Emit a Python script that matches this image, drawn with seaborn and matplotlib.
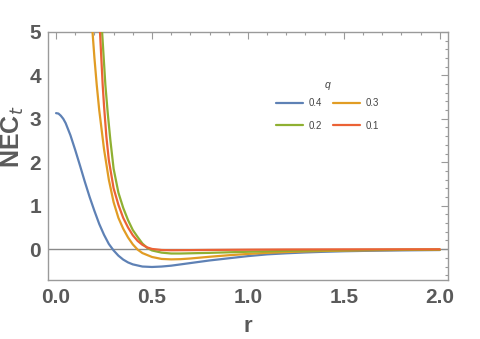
import numpy as np
import pandas as pd
import matplotlib
matplotlib.use('Agg')
import matplotlib.pyplot as plt
import seaborn as sns
from matplotlib.ticker import MultipleLocator

sns.set_style('white')
plt.rcParams['font.family'] = ['Liberation Sans', 'DejaVu Sans']

# values
r_q04 = [0, 0.0125, 0.025, 0.0375, 0.05, 0.075, 0.1, 0.125, 0.15, 0.175, 0.2, 0.225,
         0.25, 0.275, 0.3, 0.325, 0.35, 0.375, 0.4, 0.45, 0.5, 0.55, 0.6, 0.7, 0.8,
         0.9, 1.0, 1.1, 1.2, 1.3, 1.4, 1.5, 1.6, 1.8, 2.0]
nec_q04 = [3.13, 3.12, 3.07, 3.0, 2.9, 2.62, 2.28, 1.92, 1.55, 1.2, 0.88, 0.58,
           0.33, 0.12, -0.03, -0.15, -0.24, -0.305, -0.35, -0.40, -0.41, -0.40,
           -0.38, -0.32, -0.26, -0.21, -0.16, -0.12, -0.095, -0.075, -0.06, -0.048,
           -0.04, -0.028, -0.02]

r_q03 = [0.18, 0.19, 0.2, 0.212, 0.225, 0.25, 0.275, 0.3, 0.325, 0.35, 0.375, 0.4,
         0.425, 0.45, 0.5, 0.55, 0.6, 0.65, 0.7, 0.8, 0.9, 1.0, 1.1, 1.2, 1.3, 1.4,
         1.5, 1.6, 1.8, 2.0]
nec_q03 = [5.6, 5.0, 4.4, 3.78, 3.2, 2.3, 1.6, 1.08, 0.72, 0.47, 0.27, 0.11,
           -0.01, -0.09, -0.18, -0.225, -0.235, -0.23, -0.215, -0.175, -0.14, -0.11,
           -0.085, -0.066, -0.052, -0.041, -0.033, -0.027, -0.018, -0.013]

r_q02 = [0.23, 0.24, 0.257, 0.27, 0.283, 0.3, 0.325, 0.35, 0.375, 0.4, 0.425, 0.45,
         0.475, 0.5, 0.55, 0.6, 0.65, 0.7, 0.8, 0.9, 1.0, 1.2, 1.4, 1.6, 1.8, 2.0]
nec_q02 = [5.8, 5.0, 3.78, 3.1, 2.51, 1.85, 1.3, 0.95, 0.67, 0.44, 0.28, 0.13,
           0.03, -0.03, -0.08, -0.1, -0.1, -0.095, -0.085, -0.072, -0.06, -0.04,
           -0.027, -0.019, -0.014, -0.01]

r_q01 = [0.22, 0.229, 0.243, 0.25, 0.262, 0.275, 0.3, 0.325, 0.35, 0.375, 0.4, 0.425,
         0.45, 0.475, 0.5, 0.55, 0.6, 0.7, 0.8, 1.0, 1.2, 1.5, 2.0]
nec_q01 = [5.8, 5.0, 3.78, 3.3, 2.6, 2.05, 1.4, 1.02, 0.72, 0.5, 0.32, 0.19,
           0.1, 0.04, 0.005, -0.02, -0.025, -0.022, -0.018, -0.012, -0.008, -0.005, -0.003]

q_labels = ['0.4', '0.3', '0.2', '0.1']
colors = ['#5E81B5', '#E19C24', '#8FB032', '#EB6235']

frames = []
for lab, rr, vv in zip(q_labels, [r_q04, r_q03, r_q02, r_q01],
                       [nec_q04, nec_q03, nec_q02, nec_q01]):
    frames.append(pd.DataFrame({'r': rr, 'NEC': vv, 'q': lab}))
df = pd.concat(frames, ignore_index=True)

fig = plt.figure(figsize=(4.8, 3.39), dpi=100)
ax = fig.add_axes([0.1, 0.174, 0.833, 0.732])

ax.axhline(0, color='#8a8a8a', lw=1.0, zorder=1)
sns.lineplot(data=df, x='r', y='NEC', hue='q', hue_order=q_labels,
             palette=colors, estimator=None, sort=False, lw=1.6, ax=ax, zorder=3)

ax.set_xlim(-0.042, 2.042)
ax.set_ylim(-0.71, 5)
ax.xaxis.set_minor_locator(MultipleLocator(0.1))
ax.yaxis.set_minor_locator(MultipleLocator(0.2))
ax.set_xticks([0, 0.5, 1.0, 1.5, 2.0])
ax.set_xticklabels(['0.0', '0.5', '1.0', '1.5', '2.0'])
ax.set_yticks([0, 1, 2, 3, 4, 5])
ax.set_yticklabels(['0', '1', '2', '3', '4', '5'])

frame_col = '#9a9a9a'
for s in ax.spines.values():
    s.set_color(frame_col)
    s.set_linewidth(1.0)
ax.tick_params(which='both', direction='in', top=True, right=True,
               color=frame_col, width=0.8, labelsize=15, labelcolor='#5a5a5a')
ax.tick_params(which='major', length=5)
ax.tick_params(which='minor', length=2.5)
for lbl in ax.get_xticklabels() + ax.get_yticklabels():
    lbl.set_fontweight('bold')
ax.tick_params(axis='x', pad=6)
ax.tick_params(axis='y', pad=5)

ax.set_xlabel('r', fontsize=16, fontweight='bold', color='#5a5a5a', labelpad=6)
ax.set_ylabel(r'NEC$_{t}$', fontsize=18, fontweight='bold', color='#5a5a5a',
              va='center')
ax.yaxis.set_label_coords(-0.088, 0.579)

handles, labels = ax.get_legend_handles_labels()
order = [0, 2, 1, 3]
leg = ax.legend([handles[i] for i in order], [labels[i] for i in order],
                ncol=2, frameon=False, fontsize=7,
                loc='upper left', bbox_to_anchor=(0.556, 0.737),
                bbox_transform=fig.transFigure,
                handlelength=2.8, handletextpad=0.6, columnspacing=1.1,
                labelspacing=1.3)
for t in leg.get_texts():
    t.set_color('#444444')
fig.text(328 / 480, 1 - 85 / 339, 'q', fontsize=7.5, fontstyle='italic',
         color='#444444', ha='center', va='center')

fig.savefig('out.png', dpi=100)
